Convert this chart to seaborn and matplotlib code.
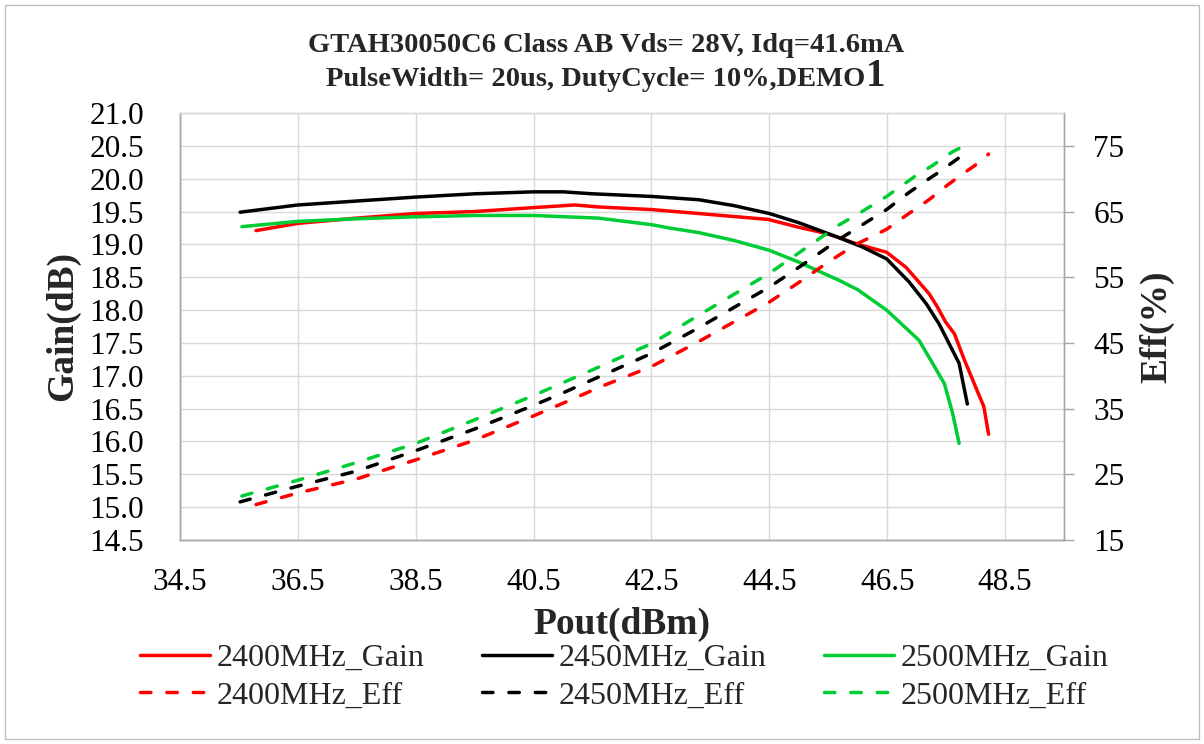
import numpy as np
import pandas as pd
import matplotlib
matplotlib.use("Agg")
import matplotlib.pyplot as plt
from matplotlib.lines import Line2D
from matplotlib.patches import Rectangle
import seaborn as sns

# ---------------- data ----------------
pout_2400 = [35.79, 36.5, 37.5, 38.5, 39.5, 40.5, 41.2, 41.6, 42.5, 43.3, 44.48, 45.0, 45.45,
             45.69, 45.97, 46.49, 46.82, 47.21, 47.35, 47.49, 47.64, 47.81, 48.00, 48.14, 48.18, 48.22]
gain_2400 = [19.21, 19.32, 19.40, 19.47, 19.50, 19.56, 19.60, 19.57, 19.53, 19.47, 19.38, 19.26, 19.17,
             19.10, 19.01, 18.88, 18.65, 18.25, 18.05, 17.82, 17.64, 17.24, 16.83, 16.53, 16.32, 16.11]
eff_2400 = [20.4, 22.15, 24.3, 27.2, 30.2, 33.9, 36.6, 38.2, 41.4, 45.2, 51.1, 54.2, 57.0,
            58.4, 60.0, 62.3, 64.4, 66.8, 67.8, 68.8, 69.8, 70.9, 72.1, 73.0, 73.4, 73.75]

pout_2450 = [35.52, 36.5, 37.5, 38.5, 39.5, 40.5, 41.0, 41.5, 42.5, 43.3, 43.9, 44.5, 45.0,
             45.69, 46.08, 46.49, 46.87, 47.16, 47.38, 47.55, 47.72, 47.86]
gain_2450 = [19.49, 19.60, 19.66, 19.72, 19.77, 19.80, 19.80, 19.77, 19.73, 19.68, 19.59, 19.47, 19.33,
             19.10, 18.96, 18.78, 18.43, 18.10, 17.79, 17.49, 17.19, 16.57]
eff_2450 = [20.8, 23.2, 25.5, 28.6, 31.9, 35.5, 37.4, 39.4, 43.4, 47.3, 50.4, 53.5, 56.5,
            60.8, 63.0, 65.3, 67.9, 69.7, 71.0, 72.1, 73.2, 73.9]

pout_2500 = [35.55, 36.5, 37.5, 38.5, 39.5, 40.5, 41.6, 42.5, 42.8, 43.3, 43.9, 44.5, 45.0, 45.69,
             46.0, 46.49, 47.04, 47.27, 47.47, 47.61, 47.72]
gain_2500 = [19.27, 19.35, 19.39, 19.42, 19.44, 19.44, 19.40, 19.30, 19.25, 19.18, 19.06, 18.91, 18.73, 18.45,
             18.31, 18.00, 17.54, 17.19, 16.88, 16.43, 15.97]
eff_2500 = [21.7, 24.1, 26.8, 29.7, 33.3, 37.0, 41.3, 44.9, 46.5, 49.2, 52.4, 55.6, 58.7, 63.0,
            64.6, 67.3, 70.8, 72.0, 73.3, 74.1, 74.6]

freqs = ["2400MHz", "2450MHz", "2500MHz"]
colors = {"2400MHz": "#FF0000", "2450MHz": "#000000", "2500MHz": "#00CC33"}
x_ticks = [34.5, 36.5, 38.5, 40.5, 42.5, 44.5, 46.5, 48.5]
gain_ticks = [14.5, 15.0, 15.5, 16.0, 16.5, 17.0, 17.5, 18.0, 18.5, 19.0, 19.5, 20.0, 20.5, 21.0]
eff_ticks = [15, 25, 35, 45, 55, 65, 75]

title1 = "GTAH30050C6 Class AB Vds= 28V, Idq=41.6mA"
title2 = "PulseWidth= 20us, DutyCycle= 10%,DEMO"

series = {
    "2400MHz": (pout_2400, gain_2400, eff_2400),
    "2450MHz": (pout_2450, gain_2450, eff_2450),
    "2500MHz": (pout_2500, gain_2500, eff_2500),
}

# ---------------- style ----------------
sns.set_theme(style="white")
plt.rcParams["font.family"] = ["Liberation Serif", "DejaVu Serif"]

W, H = 1204, 744
fig = plt.figure(figsize=(W / 100, H / 100), dpi=100)
fig.patch.set_facecolor("white")

def fx(px):
    return px / W

def fy(py):
    return 1 - py / H

ax = fig.add_axes([fx(180), fy(540), (1064 - 180) / W, (540 - 113) / H])
ax2 = ax.twinx()

LW = 2.5
DASH = (0, (3.0, 4.6))
GRID = "#d9d9d9"
SPINE = "#a6a6a6"

for f in freqs:
    p, g, e = series[f]
    df = pd.DataFrame({"Pout": p, "Gain": g, "Eff": e})
    sns.lineplot(data=df, x="Pout", y="Gain", ax=ax, color=colors[f], lw=LW,
                 sort=False, estimator=None, solid_capstyle="round", solid_joinstyle="round")
for f in freqs:
    p, g, e = series[f]
    df = pd.DataFrame({"Pout": p, "Gain": g, "Eff": e})
    sns.lineplot(data=df, x="Pout", y="Eff", ax=ax2, color=colors[f], lw=LW,
                 linestyle=DASH, sort=False, estimator=None, dash_capstyle="round")

ax.set_xlim(34.5, 49.5)
ax.set_ylim(14.5, 21.0)
ax2.set_ylim(15, 80)
ax.set_xticks(x_ticks)
ax.set_xticklabels([f"{v:.1f}" for v in x_ticks])
ax.set_yticks(gain_ticks)
ax.set_yticklabels([f"{v:.1f}" for v in gain_ticks])
ax2.set_yticks(eff_ticks)
ax2.set_yticklabels([str(v) for v in eff_ticks])

ax.grid(True, color=GRID, lw=1.0)
ax2.grid(False)
ax.set_xlabel("")
ax.set_ylabel("")
ax2.set_ylabel("")

for a in (ax, ax2):
    for s in a.spines.values():
        s.set_color(SPINE)
        s.set_linewidth(1.0)
    a.spines["top"].set_color(GRID)

ax.tick_params(axis="y", which="both", length=0, pad=26, labelsize=22.5, labelcolor="black")
ax.tick_params(axis="x", which="both", length=0, pad=20, labelsize=22.5, labelcolor="black")
ax2.tick_params(axis="y", which="both", direction="out", length=7, width=1, color=SPINE,
                pad=14, labelsize=22.5, labelcolor="black")

# axis titles
fig.text(fx(63), fy(326), "Gain(dB)", rotation=90, ha="center", va="center",
         fontsize=27, fontweight="bold")
fig.text(fx(1157), fy(327), "Eff(%)", rotation=90, ha="center", va="center",
         fontsize=27, fontweight="bold")
fig.text(fx(622), fy(624), "Pout(dBm)", ha="center", va="center",
         fontsize=27, fontweight="bold")

# chart title
fig.text(fx(606), fy(45), title1, ha="center", va="center", fontsize=20.5, fontweight="bold")
t2 = fig.text(fx(596), fy(80), title2, ha="center", va="center", fontsize=20.5, fontweight="bold")
ax.annotate("1", xy=(1, 0), xycoords=t2, xytext=(0, -2), textcoords="offset points",
            ha="left", va="bottom", fontsize=28, fontweight="bold", annotation_clip=False)

# legend
handles, labels = [], []
for f in freqs:
    handles.append(Line2D([], [], color=colors[f], lw=LW))
    labels.append(f"{f}_Gain")
    handles.append(Line2D([], [], color=colors[f], lw=LW, linestyle=DASH,
                          dash_capstyle="round"))
    labels.append(f"{f}_Eff")
fig.legend(handles, labels, ncol=3, loc="center", bbox_to_anchor=(fx(624), fy(677)),
           frameon=False, fontsize=23, handlelength=2.2, handletextpad=0.2,
           columnspacing=1.8, labelspacing=0.25)

# outer chart border
fig.patches.append(Rectangle((fx(5), fy(739)), fx(1194), (734) / H, transform=fig.transFigure,
                             fill=False, edgecolor="#bfbfbf", lw=1.0))

fig.savefig("out.png", dpi=100, facecolor="white")
